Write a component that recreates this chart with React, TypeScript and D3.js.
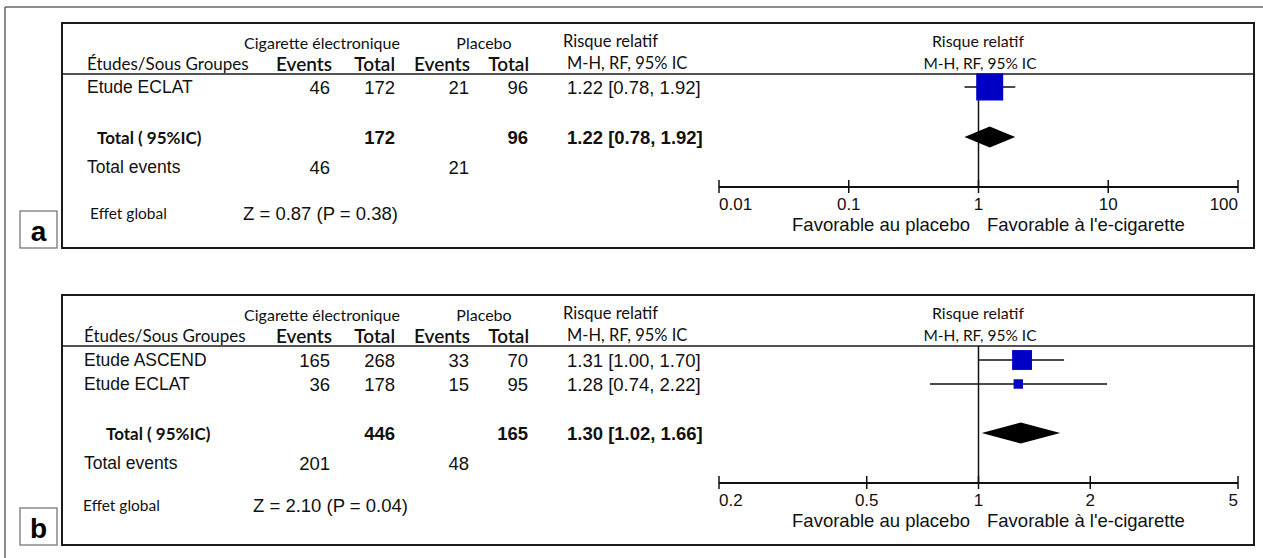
import * as d3 from "d3";

// panel a : one study
const studiesA = ["Etude ECLAT"];
const ecigEventsA = [46];
const ecigTotalA = [172];
const placeboEventsA = [21];
const placeboTotalA = [96];
const rrA = [1.22];
const lowerA = [0.78];
const upperA = [1.92];
const weightA = [100];
const pooledA = [1.22, 0.78, 1.92];
const sumsA = [46, 172, 21, 96];
const zTestA = ["0.87", "0.38"];
const ticksA = [0.01, 0.1, 1, 10, 100];

// panel b : two studies
const studiesB = ["Etude ASCEND", "Etude ECLAT"];
const ecigEventsB = [165, 36];
const ecigTotalB = [268, 178];
const placeboEventsB = [33, 15];
const placeboTotalB = [70, 95];
const rrB = [1.31, 1.28];
const lowerB = [1.0, 0.74];
const upperB = [1.7, 2.22];
const weightB = [81.6, 18.4];
const pooledB = [1.3, 1.02, 1.66];
const sumsB = [201, 446, 48, 165];
const zTestB = ["2.10", "0.04"];
const ticksB = [0.2, 0.5, 1, 2, 5];

const ARIAL = "'Liberation Sans', Arial, sans-serif";
const CALI = "Lato, 'Noto Sans', sans-serif";
const f2 = d3.format(".2f");
const ci = (r: number, l: number, u: number) => `${f2(r)} [${f2(l)}, ${f2(u)}]`;

function Panel(p: any) {
  const L = p.layout;
  const top = L.top;
  const x = d3.scaleLog().domain([p.ticks[0], p.ticks[p.ticks.length - 1]]).range([719, 1238]);
  const size = d3.scaleSqrt().domain([0, 100]).range([0, L.maxSquare]);
  const rowY = (i: number) => top + L.firstRow + i * L.rowStep;
  const totalY = top + L.totalRow;
  const eventsY = totalY + 30;
  const axisY = top + L.axis;
  const lineY = top + 51;
  const cols = [330, 395, 469, 528];
  const [pr, pl, pu] = p.pooled;
  const tickAnchor = (i: number) => (i == 0 ? "start" : i == p.ticks.length - 1 ? "end" : "middle");

  return (
    <g>
      {/* label box */}
      <rect x={20} y={top + L.height - 37} width={37} height={37} fill="#fff" stroke="#777" strokeWidth={1.3} />
      <text x={38.5} y={top + L.height - 17} fontFamily={ARIAL} fontWeight="bold" fontSize={28} textAnchor="middle" dominantBaseline="central">{p.label}</text>

      <rect x={62} y={top} width={1192} height={L.height} fill="none" stroke="#1a1a1a" strokeWidth={2} />
      <line x1={62} x2={1254} y1={lineY} y2={lineY} stroke="#1a1a1a" strokeWidth={1.5} />

      {/* header */}
      <g fontFamily={CALI} fill="#111" dominantBaseline="central">
        <text x={322} y={top + 19} fontSize={16} textAnchor="middle">Cigarette électronique</text>
        <text x={484} y={top + 19} fontSize={16} textAnchor="middle">Placebo</text>
        <text x={563} y={top + 18} fontSize={16.5}>Risque relatif</text>
        <text x={978} y={top + 17} fontSize={16} textAnchor="middle">Risque relatif</text>
        <text x={L.nameX} y={top + 40} fontSize={17}>Études/Sous Groupes</text>
        <text x={332} y={top + 40} fontSize={19} fontWeight={600} textAnchor="end">Events</text>
        <text x={395} y={top + 40} fontSize={19} fontWeight={600} textAnchor="end">Total</text>
        <text x={470} y={top + 40} fontSize={19} fontWeight={600} textAnchor="end">Events</text>
        <text x={529} y={top + 40} fontSize={19} fontWeight={600} textAnchor="end">Total</text>
        <text x={567} y={top + 40} fontSize={16.5}>M-H, RF, 95% IC</text>
        <text x={980} y={top + 40} fontSize={15.5} textAnchor="middle">M-H, RF, 95% IC</text>
      </g>

      {/* study rows */}
      <g fontFamily={ARIAL} fontSize={18.5} fill="#111" dominantBaseline="central">
        {p.studies.map((s: string, i: number) => (
          <g key={s}>
            <text x={L.nameX} y={rowY(i)} fontSize={17.5}>{s}</text>
            <text x={cols[0]} y={rowY(i)} textAnchor="end">{p.ecigEvents[i]}</text>
            <text x={cols[1]} y={rowY(i)} textAnchor="end">{p.ecigTotal[i]}</text>
            <text x={cols[2]} y={rowY(i)} textAnchor="end">{p.placeboEvents[i]}</text>
            <text x={cols[3]} y={rowY(i)} textAnchor="end">{p.placeboTotal[i]}</text>
            <text x={567} y={rowY(i)}>{ci(p.rr[i], p.lower[i], p.upper[i])}</text>
          </g>
        ))}
        <text x={L.totalX} y={totalY} fontFamily={CALI} fontWeight="bold" fontSize={17}>Total ( 95%IC)</text>
        <text x={cols[1]} y={totalY} fontWeight="bold" textAnchor="end">{p.sums[1]}</text>
        <text x={cols[3]} y={totalY} fontWeight="bold" textAnchor="end">{p.sums[3]}</text>
        <text x={567} y={totalY} fontWeight="bold">{ci(pr, pl, pu)}</text>
        <text x={L.nameX} y={eventsY} fontSize={17.5}>Total events</text>
        <text x={cols[0]} y={eventsY} textAnchor="end">{p.sums[0]}</text>
        <text x={cols[2]} y={eventsY} textAnchor="end">{p.sums[2]}</text>
        <text x={L.effetX} y={top + L.effet} fontFamily={CALI} fontSize={15.5}>Effet global</text>
        <text x={L.zX} y={top + L.effet}>{`Z = ${p.z[0]} (P = ${p.z[1]})`}</text>
      </g>

      {/* forest plot */}
      <line x1={x(1)} x2={x(1)} y1={lineY} y2={axisY} stroke="#111" strokeWidth={1.5} />
      {p.rr.map((r: number, i: number) => {
        const s = size(p.weight[i]);
        return (
          <g key={i}>
            <line x1={x(p.lower[i])} x2={x(p.upper[i])} y1={rowY(i)} y2={rowY(i)} stroke="#111" strokeWidth={1.5} />
            <rect x={x(r) - s / 2} y={rowY(i) - s / 2} width={s} height={s} fill="#0000c4" />
          </g>
        );
      })}
      <path
        d={`M${x(pl)},${totalY} L${x(pr)},${totalY - 10.5} L${x(pu)},${totalY} L${x(pr)},${totalY + 10.5} Z`}
        fill="#000"
      />
      <line x1={x(p.ticks[0])} x2={x(p.ticks[p.ticks.length - 1])} y1={axisY} y2={axisY} stroke="#111" strokeWidth={2} />
      {p.ticks.map((t: number, i: number) => (
        <g key={t}>
          <line x1={x(t)} x2={x(t)} y1={axisY - 7} y2={axisY + 6} stroke="#111" strokeWidth={1.5} />
          <text x={x(t)} y={axisY + 17} fontFamily={ARIAL} fontSize={17} fill="#111" textAnchor={tickAnchor(i)} dominantBaseline="central">{String(t)}</text>
        </g>
      ))}
      <text x={970} y={axisY + 37} fontFamily={ARIAL} fontSize={18.5} fill="#111" textAnchor="end" dominantBaseline="central">Favorable au placebo</text>
      <text x={987} y={axisY + 37} fontFamily={ARIAL} fontSize={18.5} fill="#111" dominantBaseline="central">Favorable à l'e-cigarette</text>
    </g>
  );
}

export default function App() {
  const layoutA = { top: 23, height: 225, firstRow: 64, rowStep: 24, totalRow: 114, axis: 164, effet: 190, maxSquare: 27, nameX: 87, totalX: 97, effetX: 90, zX: 243 };
  const layoutB = { top: 295, height: 250, firstRow: 65, rowStep: 24, totalRow: 138, axis: 188, effet: 210, maxSquare: 22, nameX: 84, totalX: 106, effetX: 83, zX: 253 };
  return (
    <svg width={1263} height={558} style={{ position: "absolute", left: 0, top: 0, background: "#fff" }}>
      <rect width={1263} height={558} fill="#fff" />
      <line x1={5} x2={1263} y1={7} y2={7} stroke="#666" strokeWidth={1.5} />
      <line x1={5} x2={5} y1={7} y2={558} stroke="#666" strokeWidth={1.5} />
      <Panel label="a" layout={layoutA} studies={studiesA} ecigEvents={ecigEventsA} ecigTotal={ecigTotalA}
        placeboEvents={placeboEventsA} placeboTotal={placeboTotalA} rr={rrA} lower={lowerA} upper={upperA}
        weight={weightA} pooled={pooledA} sums={sumsA} z={zTestA} ticks={ticksA} />
      <Panel label="b" layout={layoutB} studies={studiesB} ecigEvents={ecigEventsB} ecigTotal={ecigTotalB}
        placeboEvents={placeboEventsB} placeboTotal={placeboTotalB} rr={rrB} lower={lowerB} upper={upperB}
        weight={weightB} pooled={pooledB} sums={sumsB} z={zTestB} ticks={ticksB} />
    </svg>
  );
}
